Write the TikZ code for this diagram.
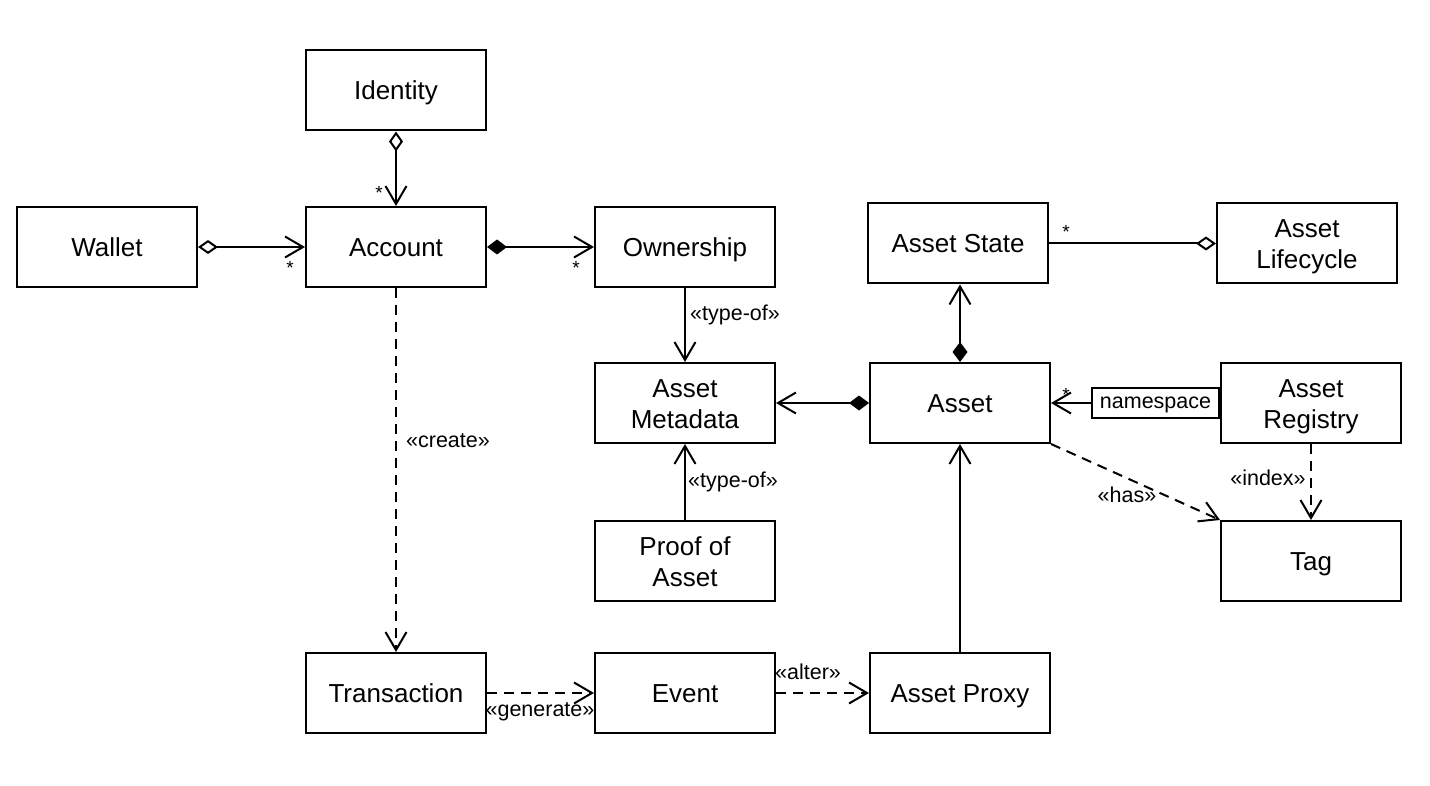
\documentclass[tikz,border=0pt]{standalone}
\usepackage{fontspec}
\setmainfont{Liberation Sans}
\usetikzlibrary{arrows.meta}
\newcommand{\twoline}[1]{\raisebox{-3.5pt}[\height][\depth]{\begin{tabular}{@{}c@{}}#1\end{tabular}}}
\tikzset{
  cls/.style={draw, line width=2pt, minimum width=180pt, minimum height=80pt, inner sep=0pt, align=center, font=\fontsize{26}{31}\selectfont},
  one/.style={text height=18.6pt, text depth=0pt},
  qual/.style={draw, line width=2pt, minimum width=127pt, minimum height=30pt, inner sep=0pt, text height=11.5pt, text depth=0pt, font=\fontsize{21.5}{25}\selectfont},
  conn/.style={line width=2pt},
  dsh/.style={conn, dash pattern=on 10pt off 7pt},
  lbl/.style={font=\fontsize{21.5}{25}\selectfont, inner sep=0pt, text height=15pt, text depth=0pt},
  mult/.style={font=\fontsize{19}{22}\selectfont, inner sep=0pt},
  opn/.tip={Straight Barb[length=18pt,width=21pt]},
  odia/.tip={Diamond[open,fill=white,length=20pt,width=14pt]},
  fdia/.tip={Diamond[length=20pt,width=15pt]},
}
\begin{document}
\begin{tikzpicture}[x=1pt,y=-1pt]
\useasboundingbox (0,0) rectangle (1430,786);
\node[cls,one] (identity) at (396,90.5) {Identity};
\node[cls,one] (wallet) at (107,247) {Wallet};
\node[cls,one] (account) at (396,247) {Account};
\node[cls,one] (ownership) at (685,247) {Ownership};
\node[cls,one] (state) at (958,243.5) {Asset State};
\node[cls] (life) at (1307,243.5) {\twoline{Asset\\Lifecycle}};
\node[cls] (meta) at (685,403) {\twoline{Asset\\Metadata}};
\node[cls,one] (asset) at (960,403) {Asset};
\node[cls] (reg) at (1311,403) {\twoline{Asset\\Registry}};
\node[qual, anchor=east] (ns) at (reg.west) {namespace};
\node[cls] (proof) at (685,561) {\twoline{Proof of\\Asset}};
\node[cls,one] (tag) at (1311,561) {Tag};
\node[cls,one] (trans) at (396,693) {Transaction};
\node[cls,one] (event) at (685,693) {Event};
\node[cls,one] (proxy) at (960,693) {Asset Proxy};

\draw[conn, odia-opn] (identity) -- (account);
\draw[conn, odia-opn] (wallet) -- (account);
\draw[conn, fdia-opn] (account) -- (ownership);
\draw[dsh, -opn] (account) -- (trans);
\draw[conn, -opn] (ownership) -- (meta);
\draw[conn, -opn] (proof) -- (meta);
\draw[conn, fdia-opn] (asset) -- (meta);
\draw[conn, fdia-opn] (asset.north) -- (asset.north |- state.south);
\draw[conn, -odia] (state) -- (life);
\draw[conn, -opn] (ns) -- (asset);
\draw[dsh, -opn] (asset.south east) -- (tag.north west);
\draw[dsh, -opn] (reg) -- (tag);
\draw[conn, -opn] (proxy) -- (asset);
\draw[dsh, -opn] (trans) -- (event);
\draw[dsh, -opn] (event) -- (proxy);

\node[mult] (m1) at (379,193) {*};
\node[mult] (m2) at (290,268) {*};
\node[mult] (m3) at (576,268) {*};
\node[mult] (m4) at (1066,232) {*};
\node[mult] (m5) at (1066,395) {*};

\node[lbl] (l1) at (448,440) {«create»};
\node[lbl] (l2) at (735,313) {«type-of»};
\node[lbl] (l3) at (733,480) {«type-of»};
\node[lbl] (l4) at (1127,495) {«has»};
\node[lbl] (l5) at (1268,478) {«index»};
\node[lbl] (l6) at (540,709) {«generate»};
\node[lbl] (l7) at (808,672) {«alter»};
\end{tikzpicture}
\end{document}
